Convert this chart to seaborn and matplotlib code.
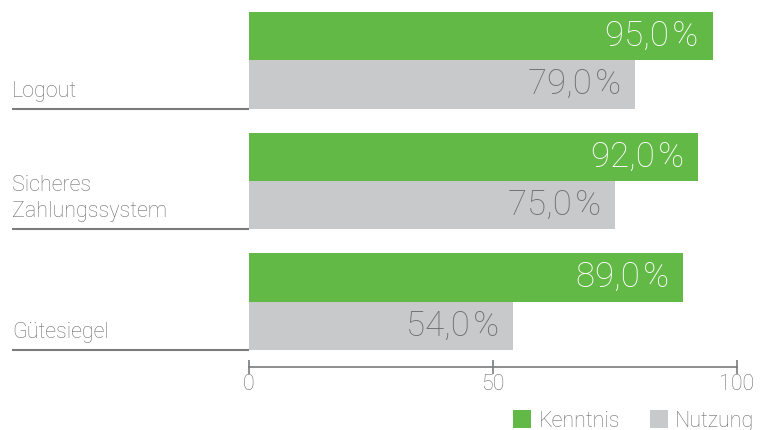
import matplotlib
matplotlib.use("Agg")
import matplotlib.pyplot as plt
from matplotlib.patches import Patch
from matplotlib.transforms import blended_transform_factory
import pandas as pd
import seaborn as sns

# Daten
kategorien = ["Logout", "Sicheres\nZahlungssystem", "Gütesiegel"]
kenntnis = [95.0, 92.0, 89.0]
nutzung = [79.0, 75.0, 54.0]
reihen = ["Kenntnis", "Nutzung"]
x_ticks = [0, 50, 100]

GRUEN = "#62b946"
GRAU = "#c8c9cb"
TEXT_GRAU = "#6f7072"
LINIE = "#7a7b7d"

df = pd.DataFrame({
    "Kategorie": kategorien * 2,
    "Wert": kenntnis + nutzung,
    "Reihe": [reihen[0]] * len(kategorien) + [reihen[1]] * len(kategorien),
})

sns.set_theme(style="white")
FONT = ["Roboto", "DejaVu Sans"]
GEWICHT = "light"
plt.rcParams["font.family"] = FONT
plt.rcParams["font.weight"] = GEWICHT

W, H = 767, 430
fig = plt.figure(figsize=(W / 100, H / 100), dpi=100)
left, right = 249 / W, 737 / W
top, bottom = 1 - 12 / H, 1 - 350 / H
ax = fig.add_axes([left, bottom, right - left, top - bottom])

sns.barplot(data=df, y="Kategorie", x="Wert", hue="Reihe", orient="h",
            palette=[GRUEN, GRAU], saturation=1, width=0.8, legend=False,
            errorbar=None, ax=ax, linewidth=0)

ax.set_xlim(0, 100)
ax.set_ylim(2.4, -0.4)
ax.set_xticks(x_ticks, [str(t) for t in x_ticks])
ax.tick_params(axis="x", direction="inout", length=10, width=1.2,
               color=LINIE, pad=0, bottom=True, labelsize=15.5,
               labelcolor=TEXT_GRAU)
ax.set_yticks([])
ax.set_xlabel("")
ax.set_ylabel("")
for s in ["left", "top", "right"]:
    ax.spines[s].set_visible(False)
ax.spines["bottom"].set_position(("outward", 12))
ax.spines["bottom"].set_color(LINIE)
ax.spines["bottom"].set_linewidth(1.2)

# Wertbeschriftungen innerhalb der Balken
for cont, farbe in zip(ax.containers, ["white", TEXT_GRAU]):
    for bar in cont:
        w = bar.get_width()
        yc = bar.get_y() + bar.get_height() / 2
        ax.annotate(f"{w:.1f}".replace(".", ",") + "\u200a%",
                    xy=(w, yc), xytext=(-10, 0), textcoords="offset points",
                    ha="right", va="center", fontsize=25, color=farbe,
                    fontweight=GEWICHT, family=FONT)

# Kategoriebeschriftungen mit Unterstrich links
trans = blended_transform_factory(fig.transFigure, ax.transData)
for i, name in enumerate(kategorien):
    yb = i + 0.4
    ax.plot([12 / W, left], [yb, yb], transform=trans, color=LINIE,
            lw=1.5, clip_on=False, solid_capstyle="butt")
    ax.annotate(name, xy=(12 / W, yb), xycoords=trans, xytext=(0, 5),
                textcoords="offset points", ha="left", va="bottom",
                fontsize=15.5, color=TEXT_GRAU, fontweight=GEWICHT,
                linespacing=1.35, family=FONT)

handles = [Patch(facecolor=GRUEN, edgecolor="none"),
           Patch(facecolor=GRAU, edgecolor="none")]
fig.legend(handles, reihen, loc="center right",
           bbox_to_anchor=(774 / W, 1 - 421 / H), ncol=2, frameon=False,
           handlelength=0.85, handleheight=0.85, handletextpad=0.35,
           columnspacing=1.35, prop={"size": 15.5, "weight": GEWICHT,
                                     "family": FONT},
           labelcolor=TEXT_GRAU)

fig.savefig("out.png", dpi=100)
